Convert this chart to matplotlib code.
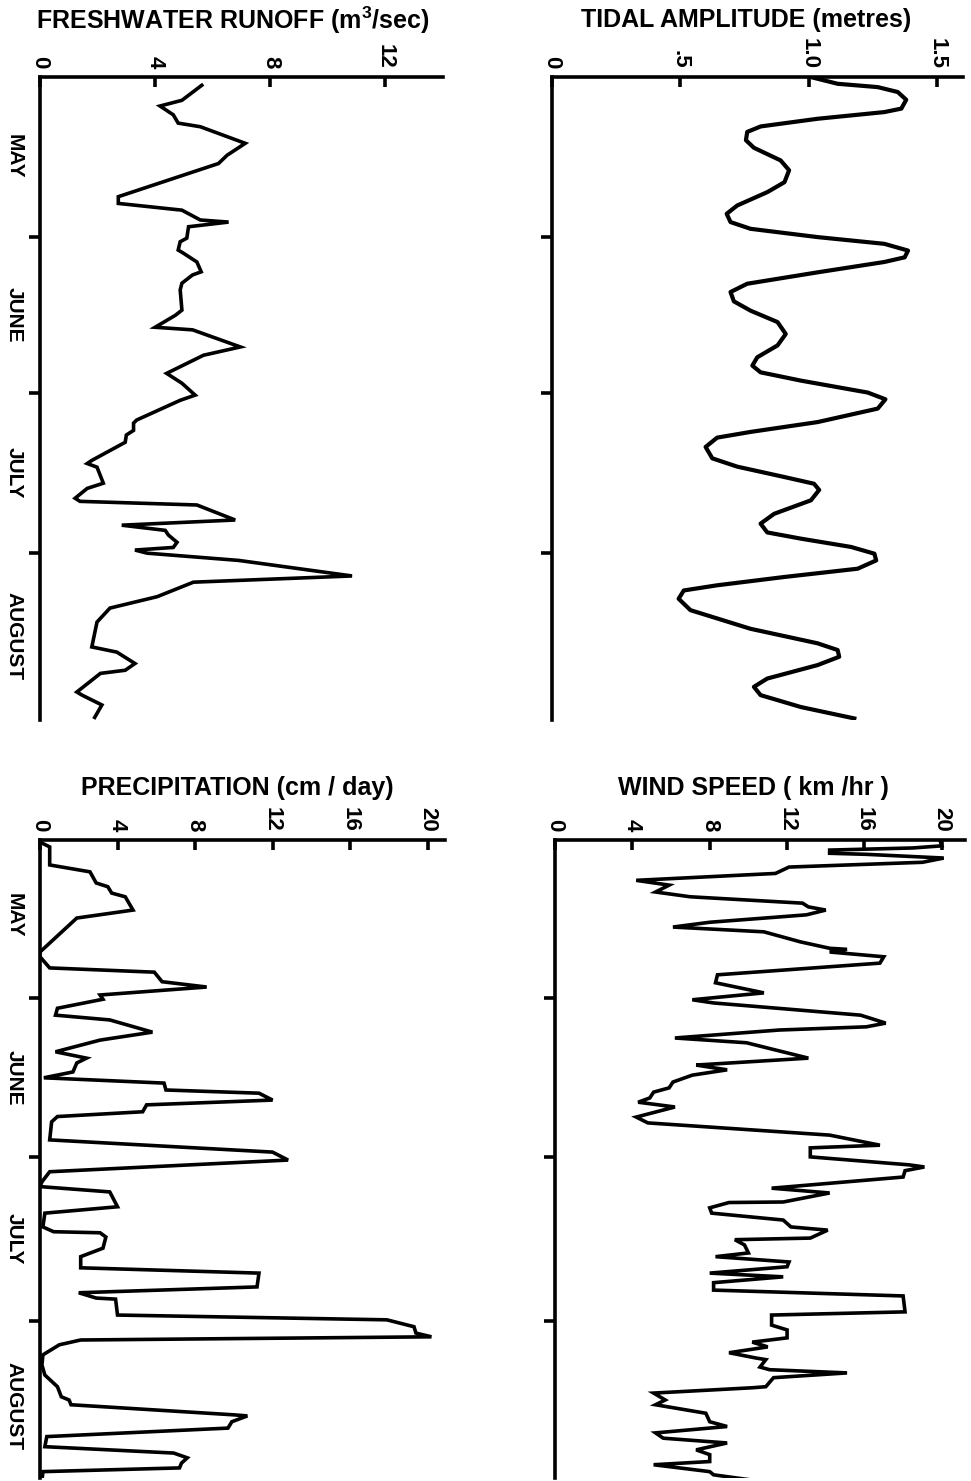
import numpy as np
import matplotlib
matplotlib.use('Agg')
import matplotlib.pyplot as plt

plt.rcParams['font.family'] = ['Liberation Sans', 'DejaVu Sans']
plt.rcParams['mathtext.default'] = 'regular'

# days counted from 1 May
months = ['MAY', 'JUNE', 'JULY', 'AUGUST']
month_starts = [31, 61, 92]
month_mids = [15.5, 46, 76.5, 108]

runoff_day = [1.7, 4.6, 5.7, 7.4, 9.0, 9.7, 12.9, 15.2, 16.8, 23.2, 24.5, 25.8, 27.7, 28.1, 29.0,
              31.2, 31.9, 33.5, 34.1, 35.8, 37.7, 38.3, 39.9, 41.2, 45.1, 46.1, 48.4, 48.9, 52.2,
              53.8, 57.3, 59.2, 61.5, 62.5, 66.3, 66.9, 68.3, 69.2, 70.6, 74.1, 74.7, 75.4, 78.5,
              79.5, 81.4, 82.0, 82.7, 85.6, 86.6, 87.6, 88.5, 89.9, 90.9, 91.4, 92.0, 93.4, 96.4,
              97.6, 100.4, 102.6, 105.3, 110.1, 111.1, 113.3, 114.6, 115.2, 118.8, 119.4, 121.3, 123.7]
runoff_val = [5.62, 4.93, 4.17, 4.63, 4.8, 5.57, 7.13, 6.5, 6.2, 2.72, 2.72, 4.93, 5.57, 6.55, 5.16,
              5.1, 4.87, 4.8, 4.98, 5.45, 5.6, 5.3, 4.93, 4.87, 4.93, 4.7, 4.0, 5.3, 6.96,
              5.68, 4.4, 4.93, 5.39, 4.87, 3.36, 3.25, 3.25, 3.0, 2.96, 1.8, 1.64, 1.98, 2.2,
              1.64, 1.22, 1.39, 5.45, 6.78, 2.84, 4.35, 4.46, 4.76, 4.63, 3.3, 3.72, 6.9, 10.84,
              5.33, 4.07, 2.43, 1.98, 1.8, 2.67, 3.3, 2.96, 2.1, 1.28, 1.46, 2.15, 1.9]

tide_day = [0.12, 1.41, 2.05, 3.0, 4.49, 6.2, 6.87, 8.16, 9.64, 10.7, 12.3, 13.76, 16.2, 18.1,
            20.4, 22.3, 24.9, 26.5, 28.1, 29.4, 31.0, 32.3, 33.6, 34.9, 35.8, 37.8, 40.0, 41.6,
            43.4, 45.2, 47.4, 49.7, 51.9, 54.2, 55.8, 57.1, 58.7, 61.0, 62.3, 64.1, 66.7, 68.6,
            69.7, 71.5, 73.7, 75.3, 77.3, 78.6, 79.8, 81.8, 84.4, 86.3, 88.0, 89.2, 90.8, 92.1,
            93.4, 95.0, 96.6, 98.2, 99.2, 100.8, 103.0, 106.6, 109.4, 110.7, 112.0, 113.6,
            116.2, 117.8, 119.4, 121.7, 123.9]
tide_val = [1.008, 1.112, 1.268, 1.346, 1.379, 1.36, 1.294, 1.034, 0.8125, 0.76, 0.755, 0.786,
            0.89, 0.923, 0.905, 0.839, 0.721, 0.68, 0.695, 0.773, 1.034, 1.294, 1.386, 1.373,
            1.294, 1.034, 0.76, 0.695, 0.708, 0.773, 0.878, 0.91, 0.878, 0.799, 0.78, 0.812,
            0.969, 1.229, 1.298, 1.268, 1.034, 0.773, 0.643, 0.598, 0.624, 0.721, 0.904, 1.02,
            1.04, 1.008, 0.865, 0.812, 0.838, 0.969, 1.164, 1.255, 1.262, 1.19, 0.904, 0.643,
            0.513, 0.493, 0.539, 0.773, 1.034, 1.112, 1.118, 1.034, 0.838, 0.786, 0.812, 0.969, 1.177]

precip_day = [1.7, 2.6, 6.0, 7.3, 9.4, 10.1, 11.3, 12.0, 14.5, 16.0, 22.4, 23.3, 25.4, 26.2, 28.0,
              29.0, 30.5, 31.3, 33.0, 34.3, 35.2, 37.5, 39.0, 41.2, 42.4, 43.3, 45.0, 46.1, 47.1,
              48.4, 49.0, 50.3, 51.2, 52.5, 53.4, 54.4, 57.8, 60.1, 61.6, 63.8, 65.7, 66.6, 67.6,
              70.4, 71.6, 74.2, 75.1, 75.3, 76.1, 78.2, 79.8, 81.9, 82.9, 85.5, 86.6, 87.6, 87.8,
              90.8, 91.7, 93.0, 94.2, 94.9, 95.5, 96.4, 98.3, 100.2, 102.1, 104.3, 106.2, 106.8,
              107.7, 109.6, 109.8, 110.9, 112.1, 113.7, 115.6, 116.8, 117.7, 118.7, 119.6, 120.3, 122.0]
precip_val = [0.0, 0.5, 0.5, 2.58, 2.9, 3.5, 3.7, 4.4, 4.8, 1.9, 0.0, 0.0, 0.5, 5.9, 6.3,
              8.6, 3.1, 3.25, 0.9, 0.8, 3.6, 5.8, 3.1, 0.8, 2.4, 1.9, 1.7, 0.2, 6.4,
              6.5, 11.3, 12.0, 5.5, 5.3, 0.9, 0.6, 0.5, 12.0, 12.8, 0.5, 0.1, 0.0, 3.6,
              4.0, 0.25, 0.15, 0.7, 3.1, 3.4, 3.25, 2.1, 2.1, 11.3, 11.2, 2.0, 2.9, 3.9,
              4.0, 17.9, 19.3, 19.4, 20.2, 2.1, 1.0, 0.15, 0.1, 0.25, 0.9, 1.1, 1.5,
              1.6, 10.0, 10.7, 9.9, 9.7, 0.35, 0.25, 6.9, 7.6, 7.3, 7.2, 0.15, 0.1]

wind_day = [1.3, 2.4, 2.8, 3.2, 3.8, 4.0, 4.7, 5.5, 6.4, 7.6, 8.9, 9.8, 11.1, 12.0, 13.2, 13.9,
            14.5, 15.4, 16.8, 17.7, 18.6, 20.5, 21.7, 21.9, 22.4, 23.3, 24.5, 26.7, 28.2, 30.1,
            31.4, 32.0, 34.3, 35.8, 36.5, 37.1, 38.6, 39.5, 42.4, 43.7, 44.1, 44.6, 45.6, 46.9,
            48.0, 48.8, 49.9, 50.7, 51.6, 53.5, 54.6, 56.9, 58.8, 59.3, 61.0, 62.5, 62.9, 63.6,
            64.8, 66.9, 67.8, 69.5, 69.6, 70.6, 71.6, 72.9, 74.2, 74.8, 76.3, 76.6, 77.6, 79.1,
            79.8, 80.8, 81.7, 82.9, 83.6, 84.7, 86.1, 87.2, 90.2, 90.8, 92.7, 93.6, 95.1, 95.9,
            96.8, 97.9, 98.9, 99.2, 100.6, 101.1, 101.7, 102.6, 104.3, 104.5, 105.5, 106.8, 107.7,
            109.3, 110.9, 111.8, 113.0, 114.0, 114.9, 116.2, 117.1, 118.4, 119.0, 120.3, 120.9, 121.8]
wind_val = [19.9, 20.0, 18.5, 14.2, 14.2, 16.1, 20.1, 19.0, 12.1, 11.4, 4.2, 5.9, 5.2, 7.0, 12.8, 13.1,
            14.0, 13.0, 8.0, 6.1, 10.8, 12.7, 14.2, 15.1, 14.2, 17.0, 16.8, 8.4, 8.3, 10.8,
            7.1, 8.2, 15.8, 17.1, 16.1, 11.6, 6.2, 9.9, 13.1, 7.3, 8.0, 8.9, 7.1, 6.1,
            5.9, 5.1, 4.9, 4.3, 6.2, 4.2, 4.8, 14.2, 16.8, 13.2, 13.2, 18.3, 19.1, 18.1,
            18.0, 11.2, 14.2, 11.8, 9.0, 8.0, 8.1, 11.8, 12.2, 14.1, 13.2, 9.3, 9.8, 10.0,
            8.3, 12.1, 12.0, 8.0, 11.8, 8.2, 8.2, 18.0, 18.1, 11.2, 11.2, 12.0, 12.0, 10.2,
            11.0, 9.0, 10.4, 10.9, 10.6, 11.1, 15.1, 11.3, 10.9, 10.2, 5.1, 5.7, 5.2,
            7.8, 8.0, 8.9, 5.2, 5.6, 8.9, 7.3, 8.0, 8.0, 5.1, 8.0, 8.2, 10.0]

W, H = 971, 1481
fig = plt.figure(figsize=(W / 100, H / 100), dpi=100)


def make_panel(px_left, px_right, px_top, px_bottom, xmax, ticks, ticklabels, ylim, title, title_xy, show_months):
    ax = fig.add_axes([px_left / W, 1 - px_bottom / H, (px_right - px_left) / W, (px_bottom - px_top) / H])
    ax.set_xlim(0, xmax)
    ax.set_ylim(*ylim)
    for s in ['right', 'bottom']:
        ax.spines[s].set_visible(False)
    for s in ['top', 'left']:
        ax.spines[s].set_linewidth(2.6)
    ax.xaxis.set_ticks_position('top')
    ax.set_xticks(ticks)
    ax.set_xticklabels(ticklabels, rotation=-90, fontsize=16, fontweight='bold')
    ax.tick_params(axis='x', direction='in', length=7, width=2.6, pad=6)
    ax.set_yticks(month_starts)
    ax.set_yticklabels([])
    ax.tick_params(axis='y', which='major', direction='out', length=8, width=2.6)
    if show_months:
        ax.set_yticks(month_mids, minor=True)
        ax.set_yticklabels(months, minor=True, rotation=-90, fontsize=15, fontweight='bold', va='center')
        ax.tick_params(axis='y', which='minor', length=0, pad=12)
    fig.text(title_xy[0] / W, 1 - title_xy[1] / H, title, ha='center', va='center',
             fontsize=18, fontweight='bold')
    return ax


ax1 = make_panel(40, 443, 77, 720, 14.0, [0, 4, 8, 12], ['0', '4', '8', '12'], (124.2, 0.1),
                 'FRESHWATER RUNOFF (m$^3$/sec)', (233, 20), True)
ax1.plot(runoff_val, runoff_day, color='black', lw=2.6, solid_joinstyle='miter')

ax2 = make_panel(552, 963, 77, 720, 1.6, [0, 0.5, 1.0, 1.5], ['0', '.5', '1.0', '1.5'], (124.2, 0.1),
                 'TIDAL AMPLITUDE (metres)', (746, 20), False)
ax2.plot(tide_val, tide_day, color='black', lw=3.0, solid_joinstyle='round')

ax3 = make_panel(40, 445, 840, 1478, 20.9, [0, 4, 8, 12, 16, 20], ['0', '4', '8', '12', '16', '20'],
                 (121.5, 1.3), 'PRECIPITATION (cm / day)', (237, 788), True)
ax3.plot(precip_val, precip_day, color='black', lw=2.6, solid_joinstyle='miter')

ax4 = make_panel(555, 965, 840, 1478, 21.2, [0, 4, 8, 12, 16, 20], ['0', '4', '8', '12', '16', '20'],
                 (121.5, 1.3), 'WIND SPEED ( km /hr )', (753, 788), False)
ax4.plot(wind_val, wind_day, color='black', lw=2.6, solid_joinstyle='miter')

fig.savefig('out.png', dpi=100, facecolor='white')
